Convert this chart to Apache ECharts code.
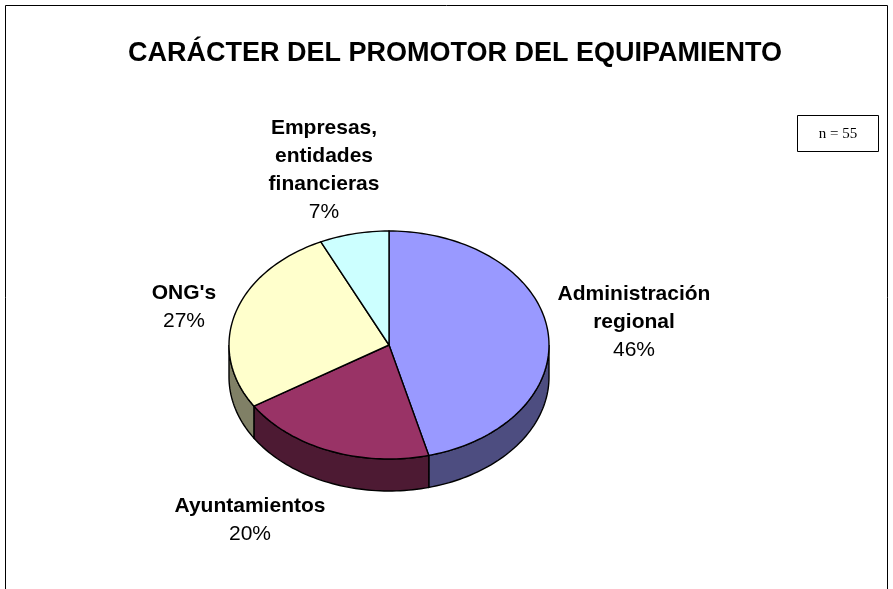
<!DOCTYPE html>
<html>
<head>
<meta charset="utf-8">
<script src="https://cdn.jsdelivr.net/npm/echarts@6/dist/echarts.min.js"></script>
<style>
html,body{margin:0;padding:0;background:#fff;}
#chart{width:893px;height:589px;}
</style>
</head>
<body>
<div id="chart"></div>
<script>
// ---- data ----
const categories = ['Administración regional', 'Ayuntamientos', "ONG's", 'Empresas, entidades financieras'];
const values = [46, 20, 27, 7];
const nameLines = [['Administración', 'regional'], ['Ayuntamientos'], ["ONG's"], ['Empresas,', 'entidades', 'financieras']];
const percentLabels = ['46%', '20%', '27%', '7%'];
const chartTitle = 'CARÁCTER DEL PROMOTOR DEL EQUIPAMIENTO';
const sampleNote = 'n = 55';

// ---- styles / layout ----
const topColors = ['#9999FF', '#993366', '#FFFFCC', '#CCFFFF'];
const sideColors = ['#4D4D80', '#4D1A33', '#808066', '#668080'];
const geo = { cx: 389, cy: 345, rx: 160, ry: 114, depth: 32 };
const labelPos = [[634, 322], [250, 520], [184, 307], [324, 170]];
const FONT = '"Liberation Sans", Arial, sans-serif';

const total = values.reduce((a, b) => a + b, 0);

function pt(deg, dy) {
  const r = deg * Math.PI / 180;
  return [geo.cx + geo.rx * Math.sin(r), geo.cy - geo.ry * Math.cos(r) + (dy || 0)];
}
function arc(a, b, dy) {
  const pts = [];
  const n = Math.max(2, Math.ceil(Math.abs(b - a) / 1.5));
  for (let i = 0; i <= n; i++) pts.push(pt(a + (b - a) * i / n, dy));
  return pts;
}

function renderItem(params, api) {
  const i = params.dataIndex;
  let start = 0;
  for (let k = 0; k < i; k++) start += values[k];
  const v = api.value(0);
  const a = start / total * 360;
  const b = (start + v) / total * 360;
  const children = [];
  const sa = Math.max(a, 90), sb = Math.min(b, 270);
  if (sb > sa) {
    const topArc = arc(sa, sb, 0);
    const botArc = arc(sb, sa, geo.depth);
    children.push({
      type: 'polygon', z2: 1,
      shape: { points: topArc.concat(botArc) },
      style: { fill: sideColors[i], stroke: '#000', lineWidth: 1.4 }
    });
  }
  children.push({
    type: 'polygon', z2: 2,
    shape: { points: [[geo.cx, geo.cy]].concat(arc(a, b, 0)) },
    style: { fill: topColors[i], stroke: '#000', lineWidth: 1.4 }
  });
  const lines = nameLines[i].map(s => '{b|' + s + '}');
  lines.push('{p|' + percentLabels[i] + '}');
  children.push({
    type: 'text', z2: 3,
    x: labelPos[i][0], y: labelPos[i][1],
    style: {
      text: lines.join('\n'),
      align: 'center', verticalAlign: 'middle',
      fill: '#000',
      rich: {
        b: { fontFamily: FONT, fontSize: 21, fontWeight: 'bold', lineHeight: 28, fill: '#000', align: 'center' },
        p: { fontFamily: FONT, fontSize: 21, lineHeight: 28, fill: '#000', align: 'center' }
      }
    }
  });
  return { type: 'group', children: children };
}

const chart = echarts.init(document.getElementById('chart'), null, { renderer: 'canvas' });
chart.setOption({
  backgroundColor: '#fff',
  animation: false,
  graphic: [
    { type: 'rect', shape: { x: 5.5, y: 5.5, width: 882, height: 620 }, style: { fill: 'none', stroke: '#000', lineWidth: 1 }, z: 0 },
    { type: 'text', x: 455, y: 54, style: { text: chartTitle, align: 'center', verticalAlign: 'middle', fontFamily: FONT, fontSize: 27, fontWeight: 'bold', fill: '#000' }, z: 10 },
    { type: 'rect', shape: { x: 797.5, y: 115.5, width: 81, height: 36 }, style: { fill: '#fff', stroke: '#000', lineWidth: 1 }, z: 10 },
    { type: 'text', x: 838, y: 134, style: { text: sampleNote, align: 'center', verticalAlign: 'middle', fontFamily: '"Liberation Serif", "Times New Roman", serif', fontSize: 15, fill: '#000' }, z: 11 }
  ],
  series: [{
    type: 'custom',
    coordinateSystem: 'none',
    renderItem: renderItem,
    data: values.map((v, i) => ({ name: categories[i], value: [v] }))
  }]
});
</script>
</body>
</html>
